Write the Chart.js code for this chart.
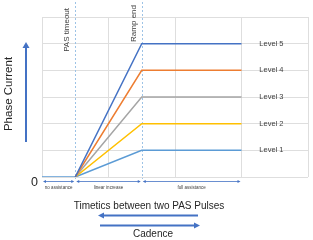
<!DOCTYPE html>
<html>
<head>
<meta charset="utf-8">
<script src="https://cdn.jsdelivr.net/npm/chart.js@4.4.1/dist/chart.umd.min.js"></script>
<style>
  html, body { margin: 0; padding: 0; background: #fff; }
  #wrap { width: 313px; height: 240px; }
</style>
</head>
<body>
<div id="wrap"><canvas id="rampChart" width="313" height="240"></canvas></div>
<script>
// x positions: start, PAS timeout, ramp end, end of chart lines
const xPoints = [0, 0.5, 1.5, 3];

// Level series (null = no point)
const levelNames = ['Level 5', 'Level 4', 'Level 3', 'Level 2', 'Level 1'];
const level5 = [null, 0, 5, 5];
const level4 = [null, 0, 4, 4];
const level3 = [null, 0, 3, 3];
const level2 = [null, 0, 2, 2];
const level1 = [0, 0, 1, 1];

// Vertical markers
const markerNames = ['PAS timeout', 'Ramp end'];
const markerX = [0.5, 1.5];

// Zones under the x axis
const zoneNames = ['no assistance', 'linear increase', 'full assistance'];
const zoneEdges = [0, 0.5, 1.5, 3];

const levelColors = ['#4472C4', '#ED7D31', '#A5A5A5', '#FFC000', '#5B9BD5'];
const arrowBlue = '#4472C4';
const FONT = '"Liberation Sans", Arial, sans-serif';

function toPoints(ys) {
  const pts = [];
  ys.forEach((y, i) => {
    if (y !== null) pts.push({ x: xPoints[i], y: y });
  });
  return pts;
}

const seriesList = [level5, level4, level3, level2, level1];

const datasets = seriesList.map((ys, i) => ({
  label: levelNames[i],
  data: toPoints(ys),
  borderColor: levelColors[i],
  backgroundColor: levelColors[i],
  borderWidth: 1.5,
  pointRadius: 0,
  tension: 0
}));

function arrowHead(ctx, x, y, dir, len, half) {
  ctx.beginPath();
  if (dir === 'up') {
    ctx.moveTo(x, y);
    ctx.lineTo(x - half, y + len);
    ctx.lineTo(x + half, y + len);
  } else if (dir === 'left') {
    ctx.moveTo(x, y);
    ctx.lineTo(x + len, y - half);
    ctx.lineTo(x + len, y + half);
  } else {
    ctx.moveTo(x, y);
    ctx.lineTo(x - len, y - half);
    ctx.lineTo(x - len, y + half);
  }
  ctx.closePath();
  ctx.fill();
}

// Extra drawing: markers, level labels, axis texts and arrows
const extrasPlugin = {
  id: 'extras',
  beforeDatasetsDraw(chart) {
    const ctx = chart.ctx;
    const xs = chart.scales.x;
    const area = chart.chartArea;
    ctx.save();
    ctx.strokeStyle = '#9DC3E6';
    ctx.lineWidth = 1;
    ctx.setLineDash([2, 2]);
    markerX.forEach(v => {
      const px = Math.round(xs.getPixelForValue(v)) + 0.5;
      ctx.beginPath();
      ctx.moveTo(px, 2);
      ctx.lineTo(px, area.bottom + 2);
      ctx.stroke();
    });
    ctx.restore();
  },
  afterDraw(chart) {
    const ctx = chart.ctx;
    const xs = chart.scales.x;
    const ys = chart.scales.y;
    const area = chart.chartArea;
    ctx.save();

    // level labels at the right
    ctx.fillStyle = '#404040';
    ctx.font = '7.5px ' + FONT;
    ctx.textAlign = 'center';
    ctx.textBaseline = 'middle';
    seriesList.forEach((ys_, i) => {
      const last = ys_[ys_.length - 1];
      ctx.fillText(levelNames[i], xs.getPixelForValue(3.45), ys.getPixelForValue(last));
    });

    // marker labels, rotated
    ctx.font = '8px ' + FONT;
    ctx.textAlign = 'right';
    ctx.textBaseline = 'middle';
    const markerTop = [8, 5];
    markerX.forEach((v, i) => {
      const px = xs.getPixelForValue(v) - 8;
      ctx.save();
      ctx.translate(px, markerTop[i]);
      ctx.rotate(-Math.PI / 2);
      ctx.fillText(markerNames[i], 0, 0);
      ctx.restore();
    });

    // y axis title + arrow
    ctx.fillStyle = '#262626';
    ctx.font = '11.5px ' + FONT;
    ctx.textAlign = 'center';
    ctx.save();
    ctx.translate(8.5, 94);
    ctx.rotate(-Math.PI / 2);
    ctx.fillText('Phase Current', 0, 0);
    ctx.restore();

    ctx.strokeStyle = arrowBlue;
    ctx.fillStyle = arrowBlue;
    ctx.lineWidth = 2;
    ctx.beginPath();
    ctx.moveTo(26, 142);
    ctx.lineTo(26, 47);
    ctx.stroke();
    arrowHead(ctx, 26, 42, 'up', 6, 3.5);

    // zero label
    ctx.fillStyle = '#262626';
    ctx.font = '12.5px ' + FONT;
    ctx.textAlign = 'center';
    ctx.fillText('0', 34.5, ys.getPixelForValue(0) + 5.5);

    // zone arrows under the axis
    const zy = area.bottom + 4.5;
    ctx.strokeStyle = arrowBlue;
    ctx.fillStyle = arrowBlue;
    ctx.lineWidth = 0.8;
    ctx.font = '4.5px ' + FONT;
    ctx.textBaseline = 'middle';
    for (let i = 0; i < zoneNames.length; i++) {
      const a = xs.getPixelForValue(zoneEdges[i]) + 1;
      const b = xs.getPixelForValue(zoneEdges[i + 1]) - 1;
      ctx.beginPath();
      ctx.moveTo(a + 2, zy);
      ctx.lineTo(b - 2, zy);
      ctx.stroke();
      arrowHead(ctx, a, zy, 'left', 3, 1.6);
      arrowHead(ctx, b, zy, 'right', 3, 1.6);
      ctx.fillStyle = '#404040';
      ctx.fillText(zoneNames[i], (a + b) / 2, zy + 6.5);
      ctx.fillStyle = arrowBlue;
    }

    // x axis title
    ctx.fillStyle = '#262626';
    ctx.font = '10px ' + FONT;
    ctx.textBaseline = 'middle';
    ctx.fillText('Timetics between two PAS Pulses', 149, 206);

    // period / cadence arrows
    ctx.strokeStyle = arrowBlue;
    ctx.fillStyle = arrowBlue;
    ctx.lineWidth = 2;
    ctx.beginPath();
    ctx.moveTo(103, 215.5);
    ctx.lineTo(198, 215.5);
    ctx.stroke();
    arrowHead(ctx, 98, 215.5, 'left', 6, 3);
    ctx.beginPath();
    ctx.moveTo(100, 225.5);
    ctx.lineTo(195, 225.5);
    ctx.stroke();
    arrowHead(ctx, 200, 225.5, 'right', 6, 3);

    ctx.fillStyle = '#262626';
    ctx.fillText('Cadence', 153, 234.5);

    ctx.restore();
  }
};

const ctx = document.getElementById('rampChart').getContext('2d');
new Chart(ctx, {
  type: 'line',
  data: { datasets: datasets },
  options: {
    responsive: false,
    animation: false,
    events: [],
    layout: {
      padding: { left: 42, right: 5, top: 17, bottom: 63 }
    },
    plugins: {
      legend: { display: false },
      tooltip: { enabled: false }
    },
    scales: {
      x: {
        type: 'linear',
        min: 0,
        max: 4,
        ticks: { display: false, stepSize: 1 },
        grid: { color: '#DEDEDE', drawTicks: false, lineWidth: 1 },
        border: { display: false }
      },
      y: {
        min: 0,
        max: 6,
        ticks: { display: false, stepSize: 1 },
        grid: { color: '#DEDEDE', drawTicks: false, lineWidth: 1 },
        border: { display: false }
      }
    }
  },
  plugins: [extrasPlugin]
});
</script>
</body>
</html>
